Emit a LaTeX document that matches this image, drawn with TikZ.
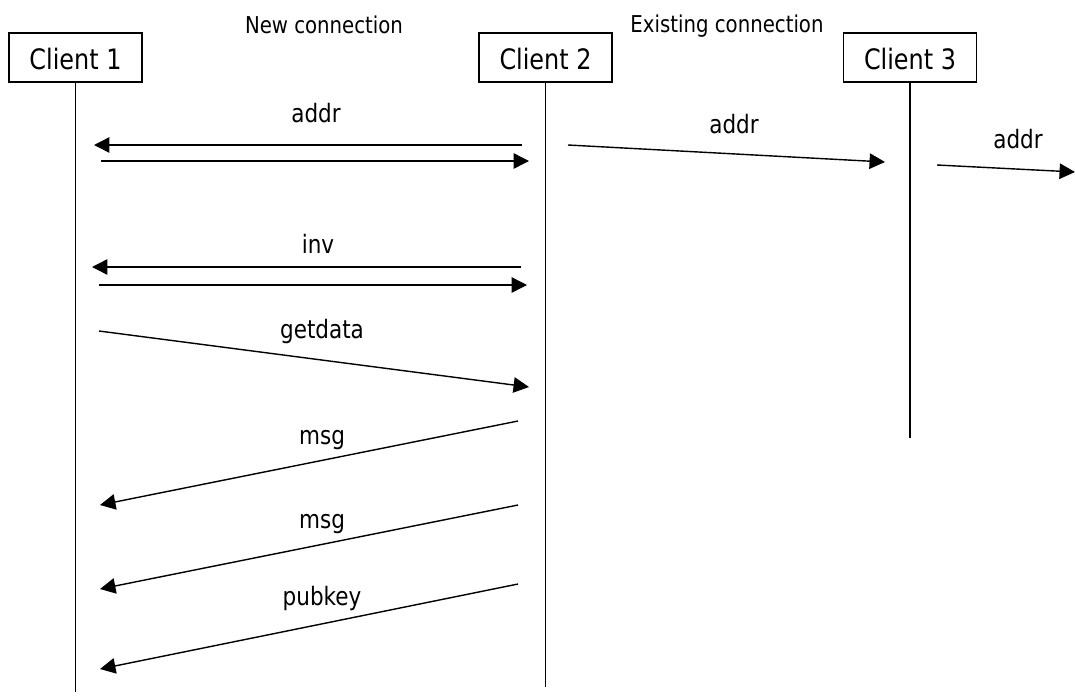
\documentclass[tikz,border=0pt]{standalone}
\usepackage{fontspec}
\setmainfont{DejaVu Sans}[FakeStretch=0.85]
\usepackage{tikz}
\usetikzlibrary{arrows.meta,positioning}

\begin{document}
\begin{tikzpicture}[
    x=0.025cm, y=-0.025cm,
    client/.style={rectangle, draw, line width=1pt, minimum width=3.325cm,
                   minimum height=1.225cm, inner sep=0pt, text height=17.5pt,
                   font=\fontsize{20}{24}\selectfont},
    lifeline/.style={line width=1.3pt},
    msg/.style={-{Triangle[length=11pt, width=11pt]}, line width=1pt},
    lbl/.style={anchor=base, inner sep=0pt, font=\fontsize{18}{22}\selectfont},
    head/.style={anchor=base, inner sep=0pt, font=\fontsize{16.5}{20}\selectfont}
]
\useasboundingbox (0,0) rectangle (1075,698);

% clients and their lifelines
\node[client] (c1) at (75.5,57.5) {Client 1};
\node[client] (c2) at (545.5,57.5) {Client 2};
\node[client] (c3) at (910,57.5) {Client 3};
\coordinate (c1end) at (75.5,692);
\coordinate (c2end) at (545.5,687);
\coordinate (c3end) at (910,438);
\draw[lifeline] (c1) -- (c1end);
\draw[lifeline] (c2) -- (c2end);
\draw[lifeline] (c3) -- (c3end);

\node[head] (newconn) at (324,33) {New connection};
\node[head] (oldconn) at (727,32) {Existing connection};

% addr exchange
\coordinate (addrAs) at (522,145);  \coordinate (addrAe) at (94,145);
\coordinate (addrBs) at (101,161);  \coordinate (addrBe) at (529,161);
\coordinate (addrCs) at (568,145);  \coordinate (addrCe) at (885,162);
\coordinate (addrDs) at (937,165);  \coordinate (addrDe) at (1075,172);
\draw[msg] (addrAs) -- (addrAe);
\draw[msg] (addrBs) -- (addrBe);
\draw[msg] (addrCs) -- (addrCe);
\draw[msg] (addrDs) -- (addrDe);
\node[lbl] (addrA) at (316,122) {addr};
\node[lbl] (addrC) at (734,133) {addr};
\node[lbl] (addrD) at (1018,148) {addr};

% inv exchange
\coordinate (invAs) at (521,267);  \coordinate (invAe) at (92,267);
\coordinate (invBs) at (99,285);   \coordinate (invBe) at (527,285);
\draw[msg] (invAs) -- (invAe);
\draw[msg] (invBs) -- (invBe);
\node[lbl] (inv) at (318,253) {inv};

% getdata
\coordinate (getS) at (99,331);  \coordinate (getE) at (529,387);
\draw[msg] (getS) -- (getE);
\node[lbl] (get) at (322,338) {getdata};

% replies
\coordinate (msgAs) at (518,421);  \coordinate (msgAe) at (100,505);
\coordinate (msgBs) at (518,505);  \coordinate (msgBe) at (100,589);
\coordinate (keyS) at (518,584);   \coordinate (keyE) at (100,669);
\draw[msg] (msgAs) -- (msgAe);
\draw[msg] (msgBs) -- (msgBe);
\draw[msg] (keyS) -- (keyE);
\node[lbl] (msgA) at (322,444) {msg};
\node[lbl] (msgB) at (322,528) {msg};
\node[lbl] (key) at (322,605) {pubkey};
\end{tikzpicture}
\end{document}
